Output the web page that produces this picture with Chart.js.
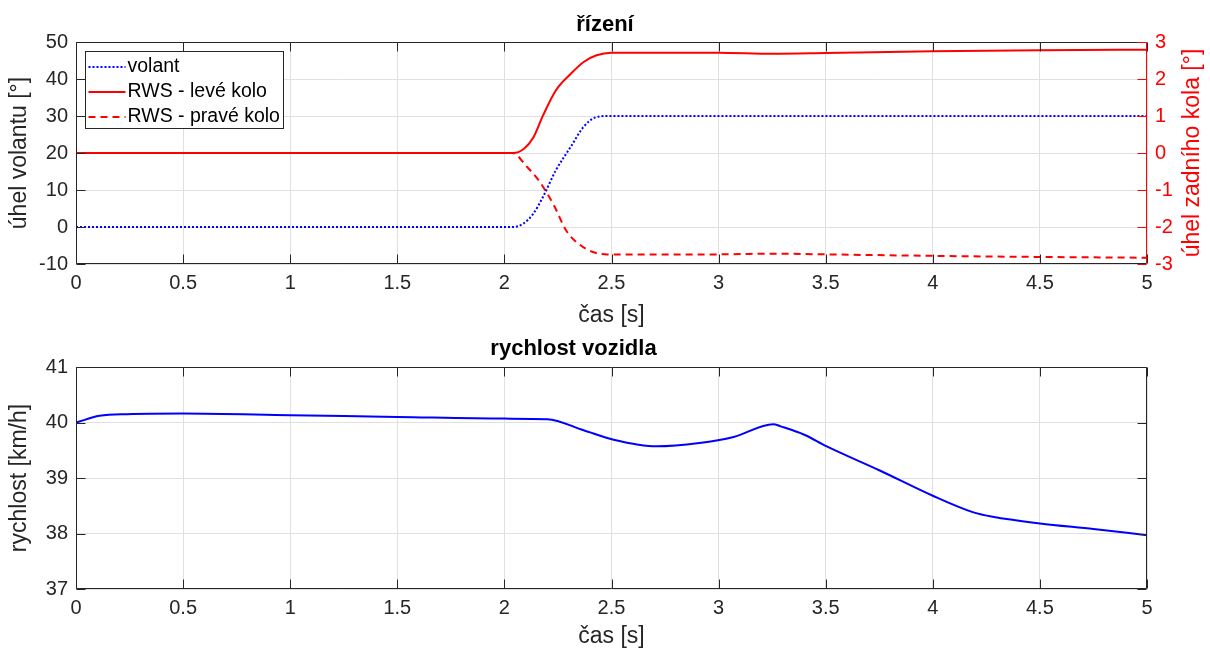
<!DOCTYPE html>
<html>
<head>
<meta charset="utf-8">
<script src="https://cdn.jsdelivr.net/npm/chart.js@4.4.1/dist/chart.umd.min.js"></script>
<style>
  html, body { margin: 0; padding: 0; background: #fff; }
  #wrap { position: relative; width: 1210px; height: 652px; }
  canvas { position: absolute; left: 0; }
</style>
</head>
<body>
<div id="wrap">
  <canvas id="steer" width="1210" height="328" style="top:0"></canvas>
  <canvas id="speed" width="1210" height="324" style="top:328px"></canvas>
</div>
<script>
// ---- data ----
const steerTime  = [0, 2.04, 2.09, 2.135, 2.18, 2.24, 2.31, 2.37, 2.43, 2.49, 5];
const steerAngle = [0, 0, 1, 3.6, 8.1, 15.3, 21.7, 27.1, 29.7, 30, 30];

const leftTime  = [0, 2.04, 2.09, 2.135, 2.18, 2.24, 2.31, 2.37, 2.43, 2.5, 3.0, 3.25, 3.5, 4.0, 4.5, 5];
const leftAngle = [0, 0, 0.11, 0.42, 1.01, 1.69, 2.14, 2.46, 2.64, 2.71, 2.71, 2.68, 2.70, 2.75, 2.78, 2.79];

const rightTime  = [0, 2.04, 2.10, 2.165, 2.23, 2.29, 2.35, 2.41, 2.48, 3.0, 3.25, 3.5, 4.0, 4.5, 5];
const rightAngle = [0, 0, -0.34, -0.78, -1.40, -2.11, -2.47, -2.67, -2.74, -2.74, -2.72, -2.74, -2.78, -2.81, -2.83];

const speedTime = [0, 0.11, 0.24, 0.5, 1.0, 1.5, 2.0, 2.2, 2.37, 2.51, 2.71, 2.91, 3.07, 3.255, 3.29, 3.40, 3.505, 3.75, 4.0, 4.19, 4.28, 4.5, 4.75, 5];
const speedKmh  = [40.0, 40.12, 40.15, 40.16, 40.13, 40.10, 40.07, 40.06, 39.86, 39.69, 39.57, 39.63, 39.74, 39.97, 39.93, 39.78, 39.57, 39.14, 38.68, 38.38, 38.30, 38.18, 38.08, 37.97];

const timeTicks  = [0, 0.5, 1, 1.5, 2, 2.5, 3, 3.5, 4, 4.5, 5];
const steerTicks = [-10, 0, 10, 20, 30, 40, 50];
const rearTicks  = [-3, -2, -1, 0, 1, 2, 3];
const speedTicks = [37, 38, 39, 40, 41];

const legendLabels = ['volant', 'RWS - levé kolo', 'RWS - pravé kolo'];

// ---- styling ----
const FONT = 'Arial, "Liberation Sans", Helvetica, sans-serif';
const AXIS = '#262626';
const GRID = '#e0e0e0';
const RED = '#ff0000';
const BLUE = '#0000ff';
const TICK_LEN = 9;

const pts = (xs, ys) => xs.map((x, i) => ({ x: x, y: ys[i] }));

function fixedTicks(values) {
  return scale => { scale.ticks = values.map(v => ({ value: v })); };
}

function line(ctx, x1, y1, x2, y2) {
  ctx.beginPath();
  ctx.moveTo(x1, y1);
  ctx.lineTo(x2, y2);
  ctx.stroke();
}

// box round the axes with inward ticks, MATLAB style
const framePlugin = {
  id: 'frame',
  afterDatasetsDraw(chart, args, opts) {
    const { ctx, chartArea: a, scales } = chart;
    const l = Math.round(a.left) + 0.5, r = Math.round(a.right) - 0.5;
    const t = Math.round(a.top) + 0.5, b = Math.round(a.bottom) - 0.5;
    ctx.save();
    ctx.lineWidth = 1;
    ctx.strokeStyle = AXIS;
    scales.x.ticks.forEach(tk => {
      const px = Math.round(scales.x.getPixelForValue(tk.value)) + 0.5;
      line(ctx, px, b, px, b - TICK_LEN);
      line(ctx, px, t, px, t + TICK_LEN);
    });
    scales.y.ticks.forEach(tk => {
      const py = Math.round(scales.y.getPixelForValue(tk.value)) + 0.5;
      line(ctx, l, py, l + TICK_LEN, py);
      if (!scales.y2) line(ctx, r, py, r - TICK_LEN, py);
    });
    line(ctx, l, t, r, t);
    line(ctx, l, b, r, b);
    line(ctx, l, t, l, b);
    ctx.strokeStyle = scales.y2 ? RED : AXIS;
    if (scales.y2) {
      scales.y2.ticks.forEach(tk => {
        const py = Math.round(scales.y2.getPixelForValue(tk.value)) + 0.5;
        line(ctx, r, py, r - TICK_LEN, py);
      });
    }
    line(ctx, r, t, r, b);
    ctx.restore();
  }
};

// right axis title reads bottom to top, like the left one
const rightTitlePlugin = {
  id: 'rightTitle',
  afterDraw(chart, args, opts) {
    if (!opts.text) return;
    const { ctx, chartArea: a } = chart;
    ctx.save();
    ctx.translate(opts.x, (a.top + a.bottom) / 2);
    ctx.rotate(-Math.PI / 2);
    ctx.font = '23px ' + FONT;
    ctx.fillStyle = opts.color;
    ctx.textAlign = 'center';
    ctx.textBaseline = 'middle';
    ctx.fillText(opts.text, 0, 0);
    ctx.restore();
  }
};

// legend box in the upper-left corner
const boxLegendPlugin = {
  id: 'boxLegend',
  afterDraw(chart, args, opts) {
    if (!opts.show) return;
    const { ctx, chartArea: a } = chart;
    const x = a.left + 9.5, y = a.top + 9.5, w = 198, h = 77, row = 25;
    ctx.save();
    ctx.fillStyle = '#fff';
    ctx.fillRect(x, y, w, h);
    ctx.strokeStyle = AXIS;
    ctx.lineWidth = 1;
    ctx.strokeRect(x, y, w, h);
    ctx.font = '19.5px ' + FONT;
    ctx.textBaseline = 'middle';
    ctx.fillStyle = '#000';
    chart.data.datasets.forEach((ds, i) => {
      const cy = y + 15.5 + i * row;
      ctx.strokeStyle = ds.borderColor;
      ctx.lineWidth = ds.borderWidth;
      ctx.setLineDash(ds.borderDash || []);
      line(ctx, x + 3, cy, x + 40, cy);
      ctx.setLineDash([]);
      ctx.fillText(ds.label, x + 42, cy);
    });
    ctx.restore();
  }
};

Chart.register(framePlugin, rightTitlePlugin, boxLegendPlugin);

function xScale(height, titlePad) {
  return {
    type: 'linear', min: 0, max: 5,
    afterBuildTicks: fixedTicks(timeTicks),
    afterFit: s => { s.height = height; },
    grid: { color: GRID, drawTicks: false },
    border: { display: false },
    ticks: {
      autoSkip: false, maxRotation: 0, padding: 7, color: AXIS,
      font: { family: FONT, size: 20 },
      callback: v => String(v)
    },
    title: {
      display: true, text: 'čas [s]', color: AXIS,
      font: { family: FONT, size: 23, lineHeight: 1 },
      padding: { top: 0, bottom: titlePad }
    }
  };
}

function leftScale(min, max, ticks, label) {
  return {
    type: 'linear', position: 'left', min: min, max: max,
    afterBuildTicks: fixedTicks(ticks),
    afterFit: s => { s.width = 76; },
    grid: { color: GRID, drawTicks: false },
    border: { display: false },
    ticks: {
      autoSkip: false, padding: 8, color: AXIS,
      font: { family: FONT, size: 20 },
      callback: v => String(v)
    },
    title: {
      display: true, text: label, color: AXIS,
      font: { family: FONT, size: 23, lineHeight: 1.2 },
      padding: { top: 6, bottom: 0 }
    }
  };
}

function titleOpts(text, top, bottom) {
  return {
    display: true, text: text, color: '#000',
    font: { family: FONT, size: 22, weight: 'bold', lineHeight: 1.2 },
    padding: { top: top, bottom: bottom }
  };
}

// ---- upper plot: steering ----
new Chart(document.getElementById('steer'), {
  type: 'line',
  data: {
    datasets: [
      { label: legendLabels[0], data: pts(steerTime, steerAngle), yAxisID: 'y',
        borderColor: BLUE, borderWidth: 2, borderDash: [2, 2] },
      { label: legendLabels[1], data: pts(leftTime, leftAngle), yAxisID: 'y2',
        borderColor: RED, borderWidth: 2 },
      { label: legendLabels[2], data: pts(rightTime, rightAngle), yAxisID: 'y2',
        borderColor: RED, borderWidth: 2, borderDash: [7, 5] }
    ]
  },
  options: {
    responsive: false,
    animation: false,
    events: [],
    layout: { padding: 0 },
    elements: { point: { radius: 0 }, line: { cubicInterpolationMode: 'monotone', fill: false } },
    scales: {
      x: xScale(64, 0.5),
      y: leftScale(-10, 50, steerTicks, 'úhel volantu [°]'),
      y2: {
        type: 'linear', position: 'right', min: -3, max: 3,
        afterBuildTicks: fixedTicks(rearTicks),
        afterFit: s => { s.width = 63; },
        grid: { drawOnChartArea: false, drawTicks: false },
        border: { display: false },
        ticks: {
          autoSkip: false, padding: 8, color: RED,
          font: { family: FONT, size: 20 },
          callback: v => String(v)
        }
      }
    },
    plugins: {
      legend: { display: false },
      tooltip: { enabled: false },
      title: titleOpts('řízení', 12, 3.6),
      rightTitle: { text: 'úhel zadního kola [°]', color: RED, x: 1193 },
      boxLegend: { show: true }
    }
  }
});

// ---- lower plot: vehicle speed ----
new Chart(document.getElementById('speed'), {
  type: 'line',
  data: {
    datasets: [
      { label: 'rychlost', data: pts(speedTime, speedKmh), yAxisID: 'y',
        borderColor: BLUE, borderWidth: 2 }
    ]
  },
  options: {
    responsive: false,
    animation: false,
    events: [],
    layout: { padding: { right: 63 } },
    elements: { point: { radius: 0 }, line: { cubicInterpolationMode: 'monotone', fill: false } },
    scales: {
      x: xScale(63, 3.5),
      y: leftScale(37, 41, speedTicks, 'rychlost [km/h]')
    },
    plugins: {
      legend: { display: false },
      tooltip: { enabled: false },
      title: titleOpts('rychlost vozidla', 8, 4.6),
      rightTitle: { text: '' },
      boxLegend: { show: false }
    }
  }
});
</script>
</body>
</html>
